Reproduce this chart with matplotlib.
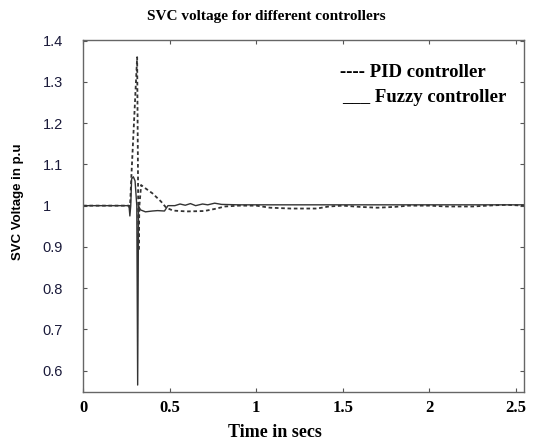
import matplotlib
matplotlib.use("Agg")
import matplotlib.pyplot as plt

# PID controller response (dashed)
pid_t = [0.0, 0.265, 0.27, 0.278, 0.312, 0.32, 0.325, 0.335, 0.35, 0.40, 0.45,
         0.48, 0.52, 0.60, 0.70, 0.76, 0.82, 0.90, 1.00, 1.08, 1.20, 1.35,
         1.42, 1.50, 1.60, 1.70, 1.80, 1.88, 2.00, 2.10, 2.25, 2.38, 2.45, 2.55]
pid_v = [1.0, 1.0, 0.99, 1.065, 1.36, 0.89, 1.0, 1.05, 1.045, 1.03, 1.01,
         0.995, 0.988, 0.986, 0.987, 0.992, 0.998, 1.0, 1.0, 0.995, 0.993, 0.993,
         0.998, 1.0, 0.997, 0.995, 0.997, 1.0, 1.0, 0.998, 0.998, 1.001, 1.002, 1.0]

# Fuzzy controller response (solid)
fuzzy_t = [0.0, 0.265, 0.27, 0.275, 0.28, 0.29, 0.30, 0.31, 0.315, 0.32,
           0.33, 0.36, 0.40, 0.43, 0.47, 0.49, 0.53, 0.56, 0.59, 0.62, 0.65,
           0.69, 0.72, 0.76, 0.80, 0.90, 1.00, 1.50, 2.00, 2.55]
fuzzy_v = [1.0, 1.0, 0.975, 1.0, 1.065, 1.07, 1.06, 1.0, 0.565, 1.0,
           0.99, 0.985, 0.987, 0.988, 0.987, 1.0, 1.0, 1.004, 1.001, 1.005, 1.0,
           1.004, 1.002, 1.006, 1.003, 1.002, 1.002, 1.002, 1.002, 1.002]

x_ticks = [0, 0.5, 1, 1.5, 2, 2.5]
x_labels = ["0", "0.5", "1", "1.5", "2", "2.5"]
y_ticks = [0.6, 0.7, 0.8, 0.9, 1.0, 1.1, 1.2, 1.3, 1.4]
y_labels = ["0.6", "0.7", "0.8", "0.9", "1", "1.1", "1.2", "1.3", "1.4"]

serif = "Liberation Serif"
sans = "Liberation Sans"

fig = plt.figure(figsize=(5.33, 4.43), dpi=100)
ax = fig.add_axes([0.156, 0.115, 0.828, 0.795])

ax.plot(fuzzy_t, fuzzy_v, color="#333333", linewidth=1.0)
ax.plot(pid_t, pid_v, color="#333333", linewidth=1.3, linestyle=(0, (2, 1.5)))

ax.set_xlim(0, 2.55)
ax.set_ylim(0.548, 1.402)

ax.set_xticks(x_ticks)
ax.set_xticklabels(x_labels, fontfamily=serif, fontweight="bold", fontsize=12)
ax.set_yticks(y_ticks)
ax.set_yticklabels(y_labels, fontfamily=sans, fontsize=10.5, color="#1a1a3a",
                   ha="left")
ax.tick_params(direction="in", top=True, right=True, length=3, color="#555555")
ax.tick_params(axis="x", pad=6)
ax.tick_params(axis="y", pad=29)
for s in ax.spines.values():
    s.set_color("#666666")
    s.set_linewidth(1.0)

fig.text(0.5, 0.962, "SVC voltage for different controllers", ha="center",
         va="center", fontfamily=serif, fontweight="bold", fontsize=11)
fig.text(0.516, 0.023, "Time in secs", ha="center", va="center",
         fontfamily=serif, fontweight="bold", fontsize=13)
fig.text(0.034, 0.544, "SVC Voltage in p.u", rotation=90, ha="center",
         va="center", fontfamily=sans, fontweight="bold", fontsize=9.5)

fig.text(0.638, 0.837, "---- PID controller", ha="left", va="center",
         fontfamily=serif, fontweight="bold", fontsize=13.5)
fig.text(0.642, 0.779, "___ Fuzzy controller", ha="left", va="center",
         fontfamily=serif, fontweight="bold", fontsize=13.5)

fig.savefig("out.png", dpi=100)
